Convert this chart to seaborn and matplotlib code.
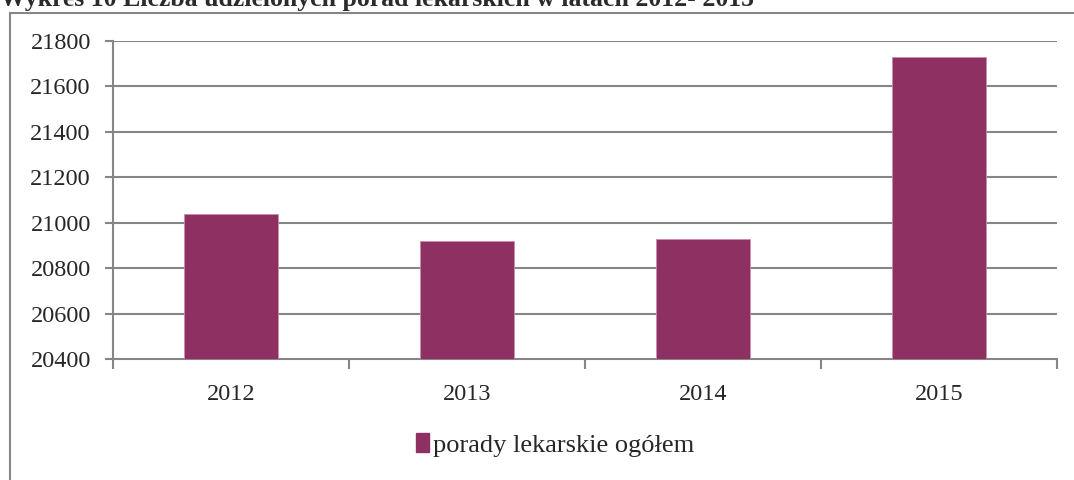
import pandas as pd
import seaborn as sns
import matplotlib.pyplot as plt
from matplotlib.patches import Rectangle

# Data
years = ['2012', '2013', '2014', '2015']
porady = [21038, 20918, 20928, 21729]
series_name = 'porady lekarskie ogółem'
y_ticks = [20400, 20600, 20800, 21000, 21200, 21400, 21600, 21800]

df = pd.DataFrame({'rok': years, 'porady': porady, 'seria': series_name})

sns.set_style('white')
plt.rcParams['font.family'] = ['Liberation Serif', 'DejaVu Serif']

grid_col = '#868686'
bar_col = '#8e3162'

fig = plt.figure(figsize=(10.74, 4.80), dpi=100)
ax = fig.add_axes([113 / 1074, 1 - 359 / 480, 944 / 1074, 318 / 480])

sns.barplot(data=df, x='rok', y='porady', hue='seria', palette=[bar_col],
            saturation=1, width=0.4, ax=ax, legend=False, zorder=3,
            edgecolor='#c98fae', linewidth=0.6)

ax.set_ylim(20400, 21800)
ax.set_yticks(y_ticks)
ax.set_xlim(-0.5, 3.5)
ax.set_xlabel('')
ax.set_ylabel('')

# horizontal gridlines
for t in y_ticks[1:]:
    ax.axhline(t, color=grid_col, lw=1.5, zorder=1)

for s in ['top', 'right']:
    ax.spines[s].set_visible(False)
for s in ['left', 'bottom']:
    ax.spines[s].set_color(grid_col)
    ax.spines[s].set_linewidth(1.5)

ax.tick_params(axis='y', length=6, width=1.5, color=grid_col, labelsize=17.5, pad=10, left=True)
ax.tick_params(axis='x', length=0, labelsize=17.5, pad=18)
# category boundary ticks on the x axis
ax.set_xticks([-0.5, 0.5, 1.5, 2.5, 3.5], minor=True)
ax.tick_params(axis='x', which='minor', length=7, width=1.5, color=grid_col, direction='out', bottom=True)

# legend
handle = Rectangle((0, 0), 1, 1, color=bar_col)
fig.legend([handle], [series_name], loc='center', bbox_to_anchor=(555 / 1074, 1 - 445 / 480),
           frameon=False, fontsize=19, handlelength=0.5, handleheight=0.7, handletextpad=0.15)

# chart border (cropped at right and bottom)
fig.add_artist(Rectangle((9.5 / 1074, -0.1), 1.2, 1 - 12.5 / 480 + 0.1, transform=fig.transFigure,
                         fill=False, edgecolor=grid_col, lw=1.5))

# title, cropped at the top
fig.text(0, 1 - 6 / 480, 'Wykres 10 Liczba udzielonych porad lekarskich w latach 2012- 2015',
         fontsize=18.5, fontweight='bold', va='baseline', ha='left', color='#2b2b2b')

fig.savefig('out.png', dpi=100)
